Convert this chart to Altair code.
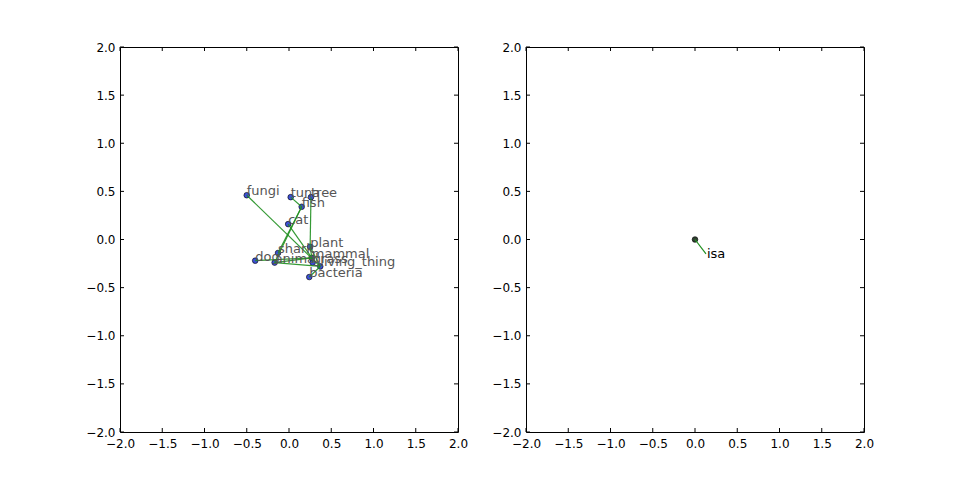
import altair as alt
import pandas as pd

# ---- data ----
words = ["fungi", "tuna", "tree", "fish", "cat", "plant", "shark", "mammal",
         "dog", "animal", "grass", "living_thing", "bacteria"]
xs = [-0.50, 0.02, 0.26, 0.15, -0.01, 0.25, -0.13, 0.27, -0.40, -0.17, 0.28, 0.37, 0.24]
ys = [0.46, 0.44, 0.44, 0.34, 0.16, -0.075, -0.14, -0.19, -0.22, -0.24, -0.24, -0.28, -0.39]

edge_from = ["fungi", "tuna", "tree", "shark", "cat", "dog", "mammal", "animal",
             "plant", "grass", "bacteria", "fish"]
edge_to = ["living_thing", "fish", "plant", "fish", "mammal", "mammal", "animal",
           "living_thing", "living_thing", "plant", "living_thing", "animal"]

rel_names = ["isa"]
rel_x0 = [0.0]
rel_y0 = [0.0]
rel_x1 = [0.13]
rel_y1 = [-0.15]

tick_vals = [-2.0, -1.5, -1.0, -0.5, 0.0, 0.5, 1.0, 1.5, 2.0]

W, H = 338, 385
FONT = "DejaVu Sans"

pos = {w: (x, y) for w, x, y in zip(words, xs, ys)}
pts = pd.DataFrame({"word": words, "x": xs, "y": ys})
edges = pd.DataFrame({
    "x": [pos[a][0] for a in edge_from],
    "y": [pos[a][1] for a in edge_from],
    "x2": [pos[b][0] for b in edge_to],
    "y2": [pos[b][1] for b in edge_to],
})
rel = pd.DataFrame({"name": rel_names, "x": rel_x0, "y": rel_y0,
                    "x2": rel_x1, "y2": rel_y1})
ticks = pd.DataFrame({"t": tick_vals})

xscale = alt.Scale(domain=[-2, 2], nice=False, zero=False)
yscale = alt.Scale(domain=[-2, 2], nice=False, zero=False)
common_axis = dict(values=tick_vals, format=".1f", ticks=False, domain=False, grid=False,
                   labelFontSize=12, labelColor="black", labelFont=FONT, title=None,
                   labelOverlap=False, labelBound=False, labelFlush=False)
xaxis = alt.Axis(labelPadding=6, **common_axis)
yaxis = alt.Axis(labelPadding=5, **common_axis)


def tick_layers():
    base = alt.Chart(ticks)
    bottom = base.mark_rule(color="black", strokeWidth=1).encode(
        x=alt.X("t:Q", scale=xscale, axis=xaxis), y=alt.value(H), y2=alt.value(H - 4))
    top = base.mark_rule(color="black", strokeWidth=1).encode(
        x=alt.X("t:Q", scale=xscale), y=alt.value(0), y2=alt.value(4))
    left = base.mark_rule(color="black", strokeWidth=1).encode(
        y=alt.Y("t:Q", scale=yscale, axis=yaxis), x=alt.value(0), x2=alt.value(4))
    right = base.mark_rule(color="black", strokeWidth=1).encode(
        y=alt.Y("t:Q", scale=yscale), x=alt.value(W), x2=alt.value(W - 4))
    return [bottom, top, left, right]


# left panel
lp = alt.Chart(pts).mark_point(filled=True, size=32, fill="#3d4fd6", stroke="black",
                                strokeWidth=0.6, opacity=1).encode(
    x=alt.X("x:Q", scale=xscale), y=alt.Y("y:Q", scale=yscale))
le = alt.Chart(edges).mark_rule(color="#1f8f1f", strokeWidth=1.2, opacity=0.9).encode(
    x=alt.X("x:Q", scale=xscale), y=alt.Y("y:Q", scale=yscale), x2="x2:Q", y2="y2:Q")
lt = alt.Chart(pts).mark_text(align="left", baseline="alphabetic", font=FONT,
                              fontSize=13, color="#555555").encode(
    x=alt.X("x:Q", scale=xscale), y=alt.Y("y:Q", scale=yscale), text="word:N")
left_chart = alt.layer(*tick_layers(), lp, le, lt).properties(width=W, height=H)

# right panel
rp = alt.Chart(rel).mark_point(filled=True, size=32, fill="#2f3f30", stroke="black",
                               strokeWidth=0.6, opacity=1).encode(
    x=alt.X("x:Q", scale=xscale), y=alt.Y("y:Q", scale=yscale))
re_ = alt.Chart(rel).mark_rule(color="#1f8f1f", strokeWidth=1.2).encode(
    x=alt.X("x:Q", scale=xscale), y=alt.Y("y:Q", scale=yscale), x2="x2:Q", y2="y2:Q")
rt = alt.Chart(rel).mark_text(align="left", baseline="top", font=FONT, dy=-6, dx=1,
                              fontSize=13, color="black").encode(
    x=alt.X("x2:Q", scale=xscale), y=alt.Y("y2:Q", scale=yscale), text="name:N")
right_chart = alt.layer(*tick_layers(), rp, re_, rt).properties(width=W, height=H)

chart = alt.hconcat(left_chart, right_chart, spacing=22).properties(
    padding={"left": 77, "top": 32, "right": 5, "bottom": 5}
).configure(background="white").configure_view(stroke="black", strokeWidth=1)

chart.save("out.html", embed_options={"renderer": "svg", "actions": False})
